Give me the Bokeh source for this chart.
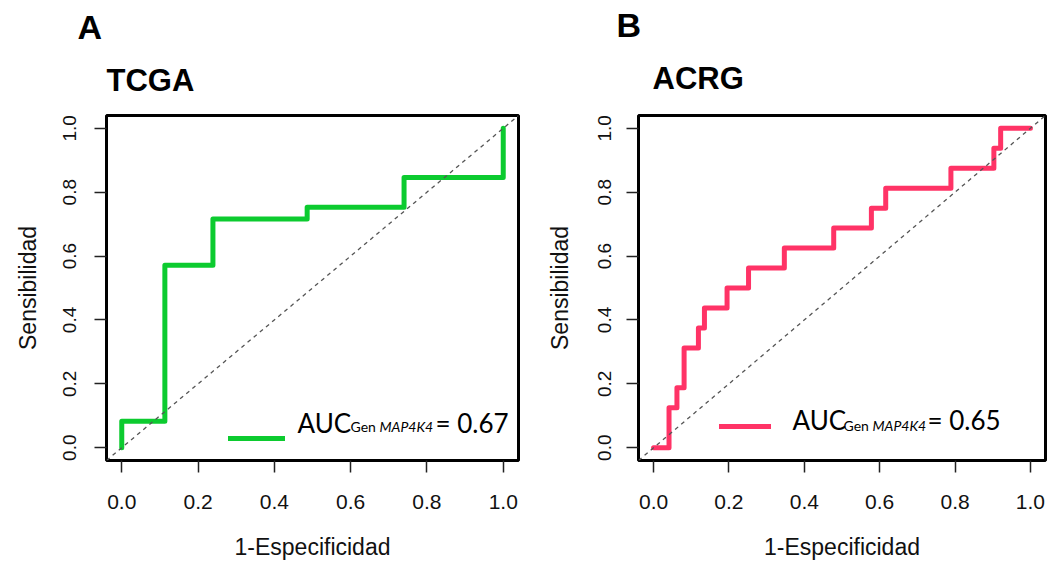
from bokeh.plotting import figure
from bokeh.layouts import row
from bokeh.models import (FixedTicker, PrintfTickFormatter, Slope, Label,
                          Legend, LegendItem, Range1d, Title)
from bokeh.embed import file_html
from bokeh.resources import INLINE

# ---------------- data ----------------
tick_values = [0.0, 0.2, 0.4, 0.6, 0.8, 1.0]

# TCGA ROC curve (1-specificity, sensitivity), step vertices
tcga_fpr = [0.0, 0.113, 0.239, 0.486, 0.740, 1.0, 1.0]
tcga_tpr = [0.0, 0.083, 0.571, 0.716, 0.753, 0.846, 1.0]
tcga_auc = 0.67

# ACRG ROC curve (1-specificity, sensitivity), step vertices
acrg_fpr = [0.0, 0.041, 0.062, 0.081, 0.119, 0.135, 0.195, 0.252, 0.347,
            0.478, 0.578, 0.616, 0.789, 0.903, 0.921, 1.0]
acrg_tpr = [0.0, 0.0, 0.125, 0.1875, 0.3125, 0.375, 0.4375, 0.5, 0.5625,
            0.625, 0.6875, 0.75, 0.8125, 0.875, 0.9375, 1.0]
acrg_auc = 0.65

panel_letters = ["A", "B"]
panel_names = ["TCGA", "ACRG"]
x_title = "1-Especificidad"
y_title = "Sensibilidad"
auc_sub_plain = "Gen "
auc_sub_italic = "MAP4K4"

HEIGHT = 564
AX_FONT = "Liberation Sans"
LEG_FONT = "Lato"


def make_panel(letter, name, fpr, tpr, auc, color, width, b_left, b_right,
               b_top, b_bottom, letter_t, name_t, leg, txt, ylab_standoff,
               ytitle_standoff):
    p = figure(width=width, height=HEIGHT,
               x_range=Range1d(-0.04, 1.04), y_range=Range1d(-0.04, 1.04),
               output_backend="svg", toolbar_location=None,
               min_border_left=b_left, min_border_right=b_right,
               min_border_top=b_top, min_border_bottom=b_bottom,
               x_axis_label=x_title, y_axis_label=y_title)
    p.grid.visible = False
    p.background_fill_color = "white"
    p.border_fill_color = "white"
    p.outline_line_color = "black"
    p.outline_line_width = 3

    for ax in (p.xaxis[0], p.yaxis[0]):
        ax.ticker = FixedTicker(ticks=tick_values)
        ax.formatter = PrintfTickFormatter(format="%.1f")
        ax.axis_line_color = None
        ax.major_tick_line_color = "#222222"
        ax.major_tick_line_width = 1.5
        ax.major_tick_in = 0
        ax.major_tick_out = 12
        ax.minor_tick_line_color = None
        ax.major_label_text_font = AX_FONT
        ax.major_label_text_color = "#111111"
        ax.axis_label_text_font = AX_FONT
        ax.axis_label_text_font_size = "23px"
        ax.axis_label_text_font_style = "normal"
        ax.axis_label_text_color = "#111111"
    p.xaxis.major_label_text_font_size = "21px"
    p.xaxis.major_label_standoff = 22
    p.xaxis.axis_label_standoff = 22
    p.yaxis.major_label_text_font_size = "19px"
    p.yaxis.major_label_orientation = "vertical"
    p.yaxis.major_label_standoff = ylab_standoff
    p.yaxis.axis_label_standoff = ytitle_standoff

    p.add_layout(Slope(gradient=1, y_intercept=0, line_color="#555555",
                       line_width=1.3, line_dash="4 4"))

    r = p.step(fpr, tpr, mode="before", line_color=color, line_width=5,
               line_cap="round", line_join="round")

    legend = Legend(items=[LegendItem(label="", renderers=[r])],
                    location=(leg[0], leg[1]), glyph_width=leg[2],
                    glyph_height=6, label_width=0, label_height=0,
                    label_standoff=0, padding=0, margin=0, spacing=0,
                    border_line_color=None, background_fill_alpha=0,
                    label_text_font_size="1px")
    p.add_layout(legend)

    # AUC text: "AUC" + subscript "Gen MAP4K4" + "= value"
    big = dict(x_units="screen", y_units="screen", text_font=LEG_FONT,
               text_font_size="26px", text_color="black",
               text_baseline="alphabetic")
    small = dict(x_units="screen", y_units="screen", text_font=LEG_FONT,
                 text_font_size="14px", text_color="black",
                 text_baseline="alphabetic")
    p.add_layout(Label(x=txt[0], y=txt[1], text="AUC", **big))
    p.add_layout(Label(x=txt[2], y=txt[3], text=auc_sub_plain, **small))
    p.add_layout(Label(x=txt[4], y=txt[3], text=auc_sub_italic,
                       text_font_style="italic", **small))
    p.add_layout(Label(x=txt[5], y=txt[1], text="= %.2f" % auc, **big))

    # dataset name (closest to frame) then panel letter (above it)
    p.add_layout(Title(text=name, align="left", offset=name_t[0],
                       standoff=name_t[1], vertical_align="top",
                       text_font=AX_FONT, text_font_size="31px",
                       text_font_style="bold", text_color="black"), "above")
    p.add_layout(Title(text=letter, align="left", offset=letter_t[0],
                       standoff=letter_t[1], vertical_align="bottom",
                       text_font=AX_FONT, text_font_size="34px",
                       text_font_style="bold", text_color="black"), "above")
    return p


p1 = make_panel(panel_letters[0], panel_names[0], tcga_fpr, tcga_tpr,
                tcga_auc, "#0ccb2f", 528, 106, 10, 113, 103,
                (-29, 2.4), (0, 31), (121.5, 19, 57),
                (191, 37.7, 244, 33.7, 273, 329), 18, 20)
p2 = make_panel(panel_letters[1], panel_names[1], acrg_fpr, acrg_tpr,
                acrg_auc, "#ff3366", 522, 110, 5, 115, 104,
                (-22, 0), (14, 34.8), (80.5, 31, 52),
                (154, 40.2, 205, 35.2, 234, 289), 15, 23)

layout = row(p1, p2)
open("out.html", "w").write(file_html(layout, INLINE))
